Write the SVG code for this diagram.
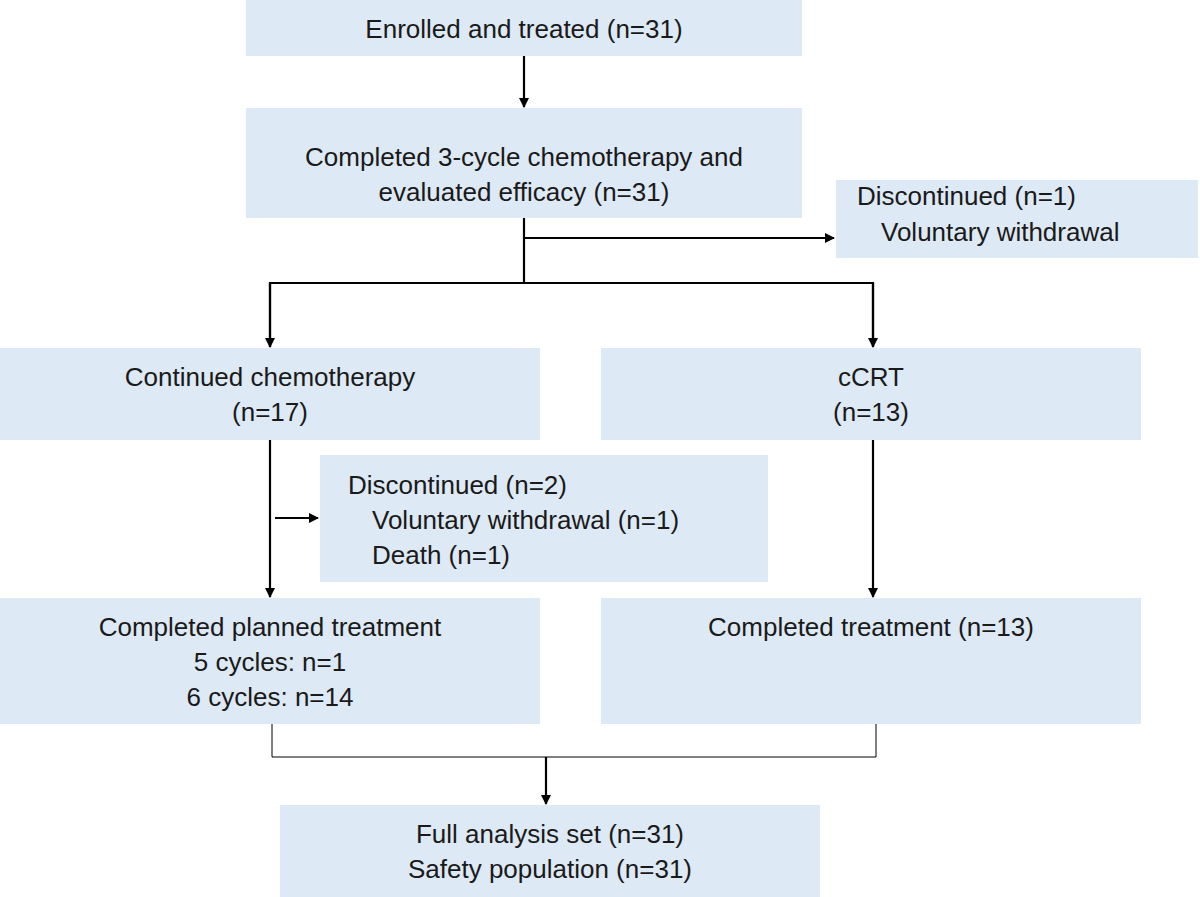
<svg xmlns="http://www.w3.org/2000/svg" width="1200" height="897" viewBox="0 0 1200 897">
<style>
.b{fill:#dde9f4}
text{font-family:"Liberation Sans",Arial,sans-serif;font-size:26px;fill:#1a1a1a}
.c{text-anchor:middle}
.l{stroke:#000;stroke-width:2.2;fill:none}
.t{stroke:#000;stroke-width:1;fill:none}
</style>
<defs><marker id="a" markerWidth="10" markerHeight="10" refX="9" refY="5" orient="auto" markerUnits="userSpaceOnUse"><path d="M0,0L10,5L0,10z" fill="#000"/></marker></defs>
<rect width="1200" height="897" fill="#fff"/>
<g id="n1"><rect class="b" x="246" y="0" width="556" height="56"/><text class="c" x="524" y="38">Enrolled and treated (n=31)</text></g>
<g id="n2"><rect class="b" x="246" y="108" width="556" height="110"/><text class="c" x="524" y="166">Completed 3-cycle chemotherapy and</text><text class="c" x="524" y="201">evaluated efficacy (n=31)</text></g>
<g id="n3"><rect class="b" x="836" y="180" width="362" height="78"/><text x="857" y="205">Discontinued (n=1)</text><text x="881" y="241">Voluntary withdrawal</text></g>
<g id="n4"><rect class="b" x="0" y="348" width="540" height="92"/><text class="c" x="270" y="386">Continued chemotherapy</text><text class="c" x="270" y="421">(n=17)</text></g>
<g id="n5"><rect class="b" x="601" y="348" width="540" height="92"/><text class="c" x="871" y="386">cCRT</text><text class="c" x="871" y="421">(n=13)</text></g>
<g id="n6"><rect class="b" x="320" y="455" width="448" height="127"/><text x="348" y="494">Discontinued (n=2)</text><text x="372" y="529">Voluntary withdrawal (n=1)</text><text x="372" y="564">Death (n=1)</text></g>
<g id="n7"><rect class="b" x="0" y="598" width="540" height="126"/><text class="c" x="270" y="636">Completed planned treatment</text><text class="c" x="270" y="671">5 cycles: n=1</text><text class="c" x="270" y="706">6 cycles: n=14</text></g>
<g id="n8"><rect class="b" x="601" y="598" width="540" height="126"/><text class="c" x="871" y="636">Completed treatment (n=13)</text></g>
<g id="n9"><rect class="b" x="280" y="805" width="540" height="92"/><text class="c" x="550" y="843">Full analysis set  (n=31)</text><text class="c" x="550" y="878">Safety population (n=31)</text></g>
<g id="connectors">
<path class="l" d="M524,56V107" marker-end="url(#a)"/>
<path class="l" d="M524,218V283"/>
<path class="l" d="M524,238H834" marker-end="url(#a)"/>
<path class="l" d="M270,347V283H873V347" />
<path class="l" d="M270,283V347" marker-end="url(#a)"/>
<path class="l" d="M873,283V347" marker-end="url(#a)"/>
<path class="l" d="M270,440V597" marker-end="url(#a)"/>
<path class="l" d="M275,518H318" marker-end="url(#a)"/>
<path class="l" d="M873,440V597" marker-end="url(#a)"/>
<path class="t" d="M272,724V757H876V724"/>
<path class="l" d="M546,757V804" marker-end="url(#a)"/>
</g>
</svg>
